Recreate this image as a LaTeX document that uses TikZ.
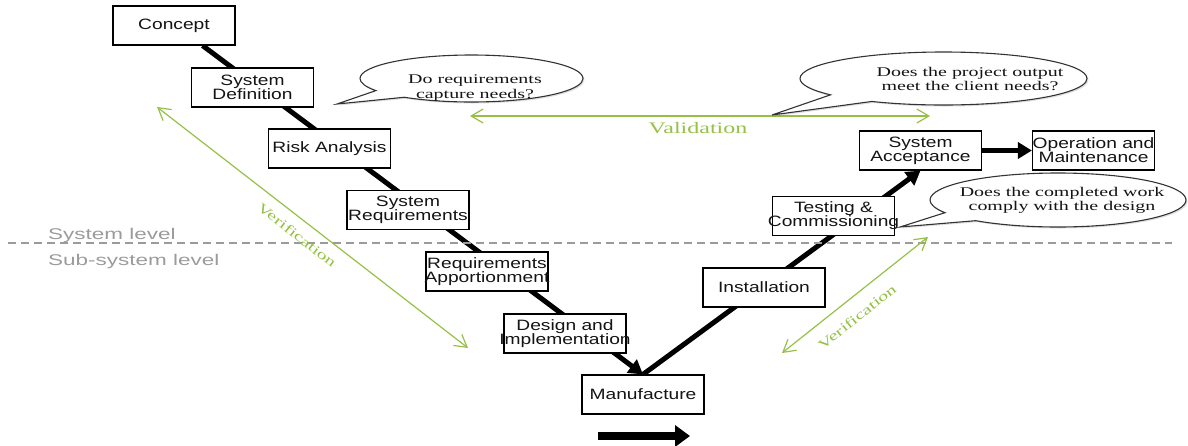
\documentclass[tikz,border=0pt]{standalone}
\usepackage{fontspec}
\usetikzlibrary{arrows.meta,shapes.callouts,shadows,calc}
\newfontfamily\boxfont{Liberation Sans}[FakeStretch=1.28]
\newfontfamily\lvlfont{Liberation Sans}[FakeStretch=1.45]
\newfontfamily\bubfont{Liberation Serif}[FakeStretch=1.5]
\newcommand\cl[1]{\makebox[0pt][c]{#1}}
\definecolor{vgreen}{RGB}{150,192,70}
\definecolor{lvlgray}{RGB}{155,155,155}
\definecolor{boxtext}{RGB}{20,20,20}
\pgfdeclarelayer{background}
\pgfsetlayers{background,main}
\begin{document}
\begin{tikzpicture}[x=1pt,y=-1pt,
  box/.style={draw=black,line width=1.2pt,fill=white,minimum width=122pt,minimum height=39pt,
    inner sep=0pt,align=center,text=boxtext,font=\boxfont\fontsize{15}{14}\selectfont},
  vline/.style={line width=5pt,-{Triangle[length=14pt,width=16pt]}},
  garrow/.style={draw=vgreen,line width=1.2pt,
    {Straight Barb[length=12pt,width=14pt]}-{Straight Barb[length=12pt,width=14pt]}},
  gtext/.style={inner sep=0pt,text=vgreen,font=\bubfont\fontsize{13.5}{14}\selectfont},
  bubble/.style={ellipse callout,draw=black!80,line width=1.1pt,fill=white,inner sep=0pt,
    callout pointer arc=22,drop shadow={opacity=0.25,shadow xshift=1.5pt,shadow yshift=-1.5pt}},
  bubtext/.style={align=center,inner sep=0pt,text=boxtext,font=\bubfont\fontsize{13.3}{14.3}\selectfont},
  lvl/.style={anchor=base west,inner sep=0pt,text=lvlgray,font=\lvlfont\fontsize{15.5}{15}\selectfont}]

\useasboundingbox (0,0) rectangle (1188,445);

% level separator
\coordinate (dl) at (8,243);
\coordinate (dr) at (1172,243);
\draw[lvlgray,dash pattern=on 8pt off 5pt,line width=1.2pt] (dl) -- (dr);
\node[lvl] (syslvl) at (48,239.5) {System level};
\node[lvl] (sublvl) at (48,265) {Sub-system level};

% boxes
\node[box] (concept) at (174,25.5) {Concept};
\node[box] (sysdef) at (252.5,87.5) {System\\Definition};
\node[box] (risk) at (329.5,148.5) {Risk Analysis};
\node[box] (sysreq) at (408,210) {\cl{System}\\\cl{Requirements}};
\node[box] (reqapp) at (487,271.5) {\cl{Requirements}\\\cl{Apportionment}};
\node[box] (design) at (565,333.5) {\cl{Design and}\\\cl{Implementation}};
\node[box] (manu) at (643,394.5) {Manufacture};
\node[box] (install) at (764,287.5) {Installation};
\node[box] (testing) at (833.5,216) {\cl{Testing \&}\\\cl{Commissioning}};
\node[box] (sysacc) at (920.5,150.5) {System\\Acceptance};
\node[box] (oper) at (1093.5,150.5) {\cl{Operation and}\\\cl{Maintenance}};

% V lines behind boxes
\begin{pgfonlayer}{background}
\draw[vline] ($(concept.south east)+(-33,0)$) -- (manu.north);
\draw[vline] (manu.north) -- (sysacc.south);
\end{pgfonlayer}
\draw[vline,line width=4.5pt] (sysacc.east) -- (oper.west);

% bottom arrow
\coordinate (ba) at (598,436);
\coordinate (bb) at (690,436);
\draw[line width=8pt,-{Triangle[length=15pt,width=21pt]}] (ba) -- (bb);

% validation
\coordinate (va) at (470,116);
\coordinate (vb) at (930,116);
\draw[garrow] (va) -- (vb);
\node[gtext,font=\bubfont\fontsize{16}{16}\selectfont] (valtxt) at (698,128) {Validation};

% verification left
\coordinate (la) at (157,107);
\coordinate (lb) at (468,348);
\draw[garrow] (la) -- (lb);
\node[gtext,rotate=-37.8] (lvtxt) at (297,235) {Verification};

% verification right
\coordinate (ra) at (782,353);
\coordinate (rb) at (928,237);
\draw[garrow] (ra) -- (rb);
\node[gtext,rotate=38.5] (rvtxt) at (857,317) {Verification};

% bubbles
\node[bubble,minimum width=223pt,minimum height=47pt,callout absolute pointer={(337,104)}] (b1) at (471.5,78.5) {};
\node[bubtext] (b1t) at (475,88) {Do requirements\\capture needs?};

\node[bubble,minimum width=287pt,minimum height=53pt,callout absolute pointer={(772,115)}] (b2) at (943.5,78.5) {};
\node[bubtext] (b2t) at (970,79) {Does the project output\\meet the client needs?};

\node[bubble,minimum width=256pt,minimum height=54pt,callout absolute pointer={(900,227)}] (b3) at (1058,200) {};
\node[bubtext] (b3t) at (1062,200) {Does the completed work\\comply with the design};
\end{tikzpicture}
\end{document}
